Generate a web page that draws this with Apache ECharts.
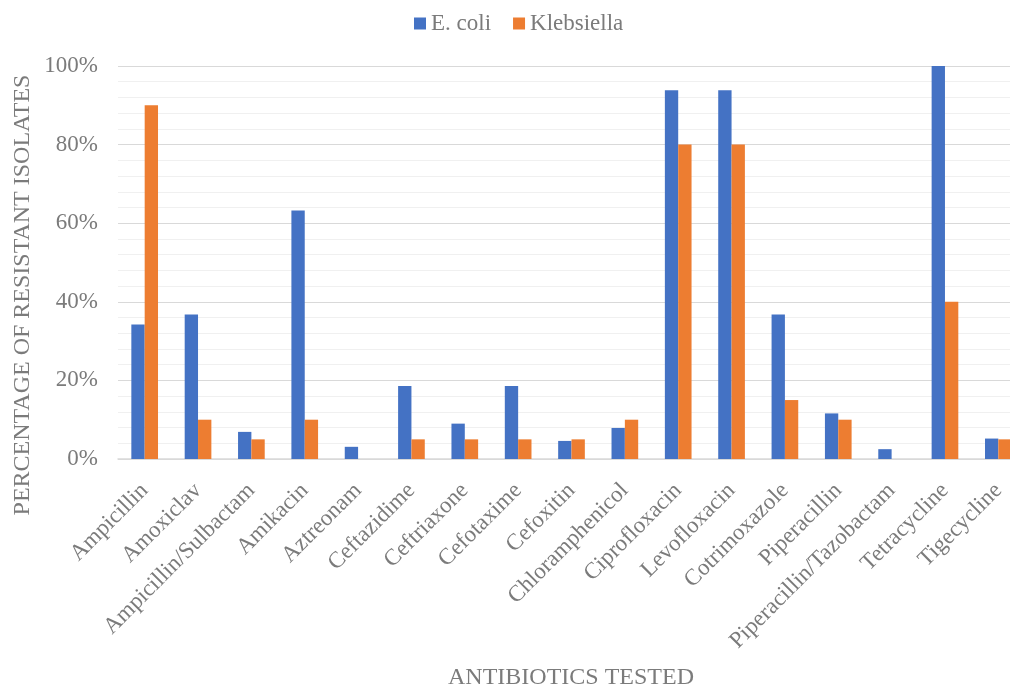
<!DOCTYPE html>
<html>
<head>
<meta charset="utf-8">
<script src="https://cdn.jsdelivr.net/npm/echarts@6/dist/echarts.min.js"></script>
<style>
  html, body { margin: 0; padding: 0; background: #fff; overflow: hidden; width: 1010px; height: 688px; }
  /* the canvas is a little wider than the page so the plot runs off the right edge */
  #chart { width: 1025px; height: 688px; }
</style>
</head>
<body>
<div id="chart"></div>
<script>
// Antibiotic resistance by organism (percentage of resistant isolates)
const antibiotics = [
  'Ampicillin', 'Amoxiclav', 'Ampicillin/Sulbactam', 'Amikacin', 'Aztreonam',
  'Ceftazidime', 'Ceftriaxone', 'Cefotaxime', 'Cefoxitin', 'Chloramphenicol',
  'Ciprofloxacin', 'Levofloxacin', 'Cotrimoxazole', 'Piperacillin',
  'Piperacillin/Tazobactam', 'Tetracycline', 'Tigecycline'
];
const eColi = [34.2, 36.8, 6.9, 63.2, 3.1, 18.6, 9.0, 18.6, 4.6, 7.9, 93.8, 93.8, 36.8, 11.6, 2.5, 100, 5.2];
const klebsiella = [90, 10, 5, 10, 0, 5, 5, 5, 5, 10, 80, 80, 15, 10, 0, 40, 5];
const seriesNames = ['E. coli', 'Klebsiella'];
const yTicks = { min: 0, max: 100, step: 20 };

const textColor = '#7b7b7b';
const fontFamily = '"Liberation Serif", "DejaVu Serif", serif';

const chart = echarts.init(document.getElementById('chart'), null, { renderer: 'canvas' });

chart.setOption({
  animation: false,
  color: ['#4472C4', '#ED7D31'],
  textStyle: { fontFamily: fontFamily, color: textColor },
  legend: {
    top: 7,
    left: 409,
    itemWidth: 12,
    itemHeight: 12,
    itemGap: 22,
    icon: 'rect',
    textStyle: { fontFamily: fontFamily, fontSize: 23, color: textColor },
    data: seriesNames
  },
  grid: { left: 118, right: 0, top: 66, bottom: 229, containLabel: false },
  xAxis: {
    type: 'category',
    data: antibiotics,
    axisLine: { show: true, lineStyle: { color: '#d9d9d9', width: 1.5 } },
    axisTick: { show: false },
    axisLabel: {
      rotate: 45,
      interval: 0,
      margin: 28,
      fontFamily: fontFamily,
      fontSize: 23,
      color: textColor
    }
  },
  yAxis: {
    type: 'value',
    min: yTicks.min,
    max: yTicks.max,
    interval: yTicks.step,
    axisLine: { show: false },
    axisTick: { show: false },
    axisLabel: {
      formatter: '{value}%',
      margin: 20,
      fontFamily: fontFamily,
      fontSize: 23,
      color: textColor
    },
    splitLine: { show: true, lineStyle: { color: '#d9d9d9', width: 1.2 } },
    minorTick: { show: false, splitNumber: 5 },
    minorSplitLine: { show: true, lineStyle: { color: '#f0f0f0', width: 1.2 } }
  },
  series: [
    {
      name: seriesNames[0],
      type: 'bar',
      data: eColi,
      barGap: '0%',
      barCategoryGap: '50%'
    },
    {
      name: seriesNames[1],
      type: 'bar',
      data: klebsiella,
      barGap: '0%',
      barCategoryGap: '50%'
    }
  ],
  graphic: [
    {
      type: 'text',
      x: 23,
      y: 295,
      rotation: Math.PI / 2,
      style: {
        text: 'PERCENTAGE OF RESISTANT ISOLATES',
        fontFamily: fontFamily,
        fontSize: 24,
        fill: textColor,
        align: 'center',
        verticalAlign: 'middle'
      }
    },
    {
      type: 'text',
      x: 571,
      y: 678,
      style: {
        text: 'ANTIBIOTICS TESTED',
        fontFamily: fontFamily,
        fontSize: 24,
        fill: textColor,
        align: 'center',
        verticalAlign: 'middle'
      }
    }
  ]
});
</script>
</body>
</html>
